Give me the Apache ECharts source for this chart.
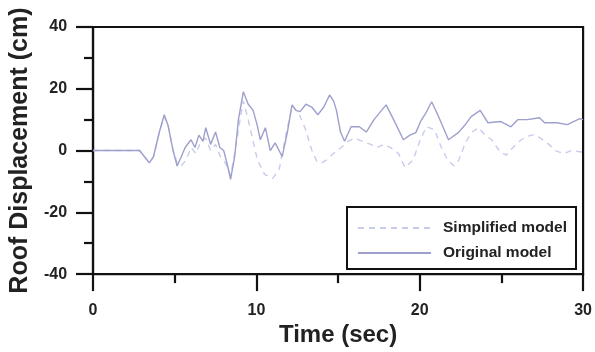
<!DOCTYPE html>
<html>
<head>
<meta charset="utf-8">
<script src="https://cdn.jsdelivr.net/npm/echarts@6/dist/echarts.min.js"></script>
<style>
html,body{margin:0;padding:0;background:#fff;}
#chart{width:595px;height:352px;}
</style>
</head>
<body>
<div id="chart"></div>
<script>
// Data: [time (sec), roof displacement (cm)]
const seriesNames = ["Simplified model", "Original model"];
const xTicks = [0, 10, 20, 30];
const yTicks = [-40, -20, 0, 20, 40];

const simplifiedTime = [0,2.85,3.15,3.45,3.7,4.06,4.36,4.6,4.9,5.15,5.4,5.7,6.0,6.3,6.6,6.9,7.2,7.5,7.8,8.1,8.42,8.7,9.0,9.2,9.5,9.8,10.06,10.5,11.0,11.4,11.8,12.2,12.6,13.0,13.4,13.7,14.0,14.3,14.7,15.2,15.6,16.0,16.5,17.0,17.4,17.8,18.2,18.7,19.1,19.6,20.0,20.4,20.9,21.3,21.7,22.1,22.4,22.8,23.2,23.6,24.0,24.4,24.9,25.3,25.7,26.1,26.5,27.0,27.4,27.9,28.3,28.8,29.3,29.7,30];
const simplifiedDisp = [0,0,-2,-4,-2,6,11,8,0,-4,-5,-3,1,-1,3,4,0,2,-2,-4,-8,0,10,16,10,3,-3,-7.7,-9,-6,5,14.5,12,7,0,-3.5,-4,-3,-1,1,3,4,3,2,1,2,1,-1,-5.5,-3,3,7.7,6.8,1.3,-3,-5,-3,2.6,6,7.4,5,3.5,-0.3,-1.5,1,3,4.5,5.2,4,2,0,-1,0,-0.3,-0.5];

const originalTime = [0,2.85,3.15,3.45,3.7,4.06,4.36,4.6,4.9,5.15,5.4,5.64,6.0,6.24,6.48,6.73,6.9,7.2,7.5,7.76,8.0,8.24,8.42,8.67,8.9,9.2,9.5,9.8,10.06,10.24,10.55,10.85,11.15,11.58,11.9,12.18,12.42,12.67,13.03,13.4,13.76,14.12,14.48,14.73,14.9,15.15,15.4,15.8,16.3,16.73,17.2,17.94,18.4,19.0,19.4,19.76,20.06,20.36,20.73,21.15,21.76,22.36,22.73,23.15,23.7,24.18,24.97,25.58,26.0,26.6,27.33,27.64,28.42,29.03,29.8,30];
const originalDisp = [0,0,-2,-4,-2,6,11.6,8,0,-5,-2,1,3.5,1,5,3,7.4,2,6,1,0,-5,-9.3,-2,10,19,15,13,8,3.5,7.4,0,2.5,-2,6,14.8,13,12.6,15,14,11.6,14,18,16,13,6,3,7.7,7.7,6,10,14.8,10,3.5,5,5.8,9.5,12,15.8,11,3.5,5.8,8,11,13,9,9.4,7.7,10,10,10.6,9,9,8.4,10.3,10];

const pair = (t, v) => t.map((x, i) => [x, v[i]]);

const chart = echarts.init(document.getElementById('chart'));
const font = "'Liberation Sans', Arial, sans-serif";
const axisCommon = {
  axisLine: {show: true, onZero: false, lineStyle: {color: '#111', width: 2.2}},
  axisTick: {show: true, inside: false, length: 17, lineStyle: {color: '#111', width: 2.2}},
  minorTick: {show: true, splitNumber: 2, length: 9, lineStyle: {color: '#111', width: 2.2}},
  splitLine: {show: false},
  axisLabel: {fontFamily: font, fontWeight: 'bold', fontSize: 16, color: '#222'}
};
chart.setOption({
  animation: false,
  backgroundColor: '#fff',
  grid: {left: 91, right: 9, top: 27, bottom: 77, show: true, borderColor: '#111', borderWidth: 2.2, backgroundColor: 'transparent'},
  xAxis: Object.assign({}, axisCommon, {
    type: 'value', min: xTicks[0], max: xTicks[xTicks.length-1], interval: 10,
    name: 'Time (sec)', nameLocation: 'middle', nameGap: 45,
    nameTextStyle: {fontFamily: font, fontWeight: 'bold', fontSize: 24, color: '#222'},
    axisLabel: Object.assign({}, axisCommon.axisLabel, {margin: 28})
  }),
  yAxis: Object.assign({}, axisCommon, {
    type: 'value', min: yTicks[0], max: yTicks[yTicks.length-1], interval: 20,
    name: 'Roof Displacement (cm)', nameLocation: 'middle', nameGap: 56,
    nameTextStyle: {fontFamily: font, fontWeight: 'bold', fontSize: 25, color: '#222'},
    axisLabel: Object.assign({}, axisCommon.axisLabel, {margin: 26})
  }),
  legend: {
    orient: 'vertical', left: 347, top: 207,
    borderColor: '#111', borderWidth: 2, padding: [13, 9, 8, 10],
    itemWidth: 73, itemHeight: 14, itemGap: 9,
    backgroundColor: '#fff',
    itemStyle: {opacity: 0},
    textStyle: {fontFamily: font, fontWeight: 'bold', fontSize: 15.5, color: '#222', padding: [0, 0, 0, 7]},
    data: seriesNames
  },
  series: [
    {name: seriesNames[0], type: 'line', data: pair(simplifiedTime, simplifiedDisp), showSymbol: false, symbol: 'none',
     lineStyle: {color: '#c8cbec', width: 1.4, type: [6, 5]}, itemStyle: {color: '#c8cbec'}, z: 2},
    {name: seriesNames[1], type: 'line', data: pair(originalTime, originalDisp), showSymbol: false, symbol: 'none',
     lineStyle: {color: '#9da0cc', width: 1.4}, itemStyle: {color: '#9da0cc'}, z: 3}
  ]
});
</script>
</body>
</html>
